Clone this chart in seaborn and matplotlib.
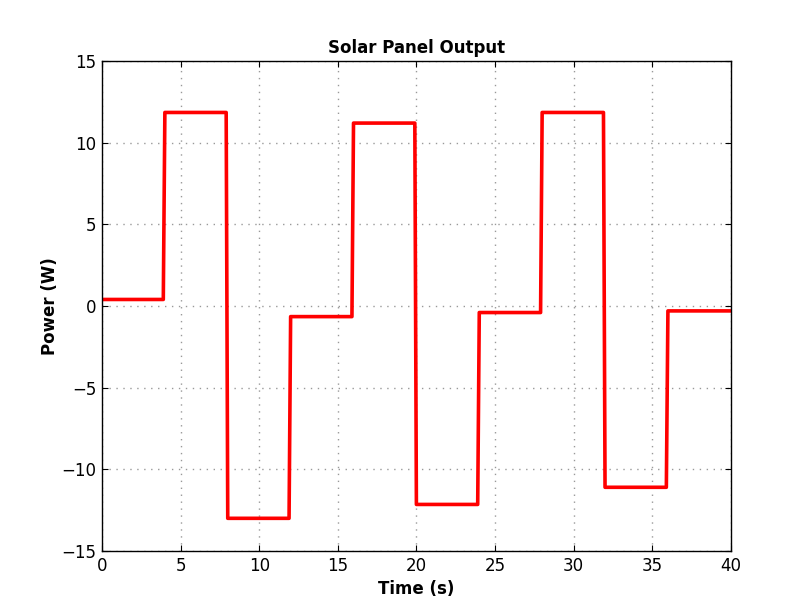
import matplotlib
matplotlib.use("Agg")
import matplotlib.pyplot as plt
import seaborn as sns
import pandas as pd

# Vertices of the output trace (time in s, power in W)
time_s = [0, 3.9, 4.0, 7.9, 8.0, 11.9, 12.0, 15.9, 16.0, 19.9, 20.0,
          23.9, 24.0, 27.9, 28.0, 31.9, 32.0, 35.9, 36.0, 40.0]
power_w = [0.4, 0.4, 11.85, 11.85, -13.0, -13.0, -0.65, -0.65, 11.2, 11.2, -12.15,
           -12.15, -0.4, -0.4, 11.85, 11.85, -11.1, -11.1, -0.3, -0.3]

x_ticks = [0, 5, 10, 15, 20, 25, 30, 35, 40]
y_ticks = [-15, -10, -5, 0, 5, 10, 15]

sns.set_style("white")
plt.rcParams['font.family'] = ['DejaVu Sans']
plt.rcParams['text.color'] = 'black'
plt.rcParams['axes.labelcolor'] = 'black'

df = pd.DataFrame({"Time (s)": time_s, "Power (W)": power_w})

fig = plt.figure(figsize=(8.12, 6.12), dpi=100)
ax = fig.add_axes([0.1256, 0.0997, 0.7744, 0.8006])
sns.lineplot(data=df, x="Time (s)", y="Power (W)", ax=ax, color="red",
             linewidth=2.6, sort=False, estimator=None)

ax.set_xlim(0, 40)
ax.set_ylim(-15, 15)
ax.set_xticks(x_ticks)
ax.set_yticks(y_ticks)
ax.set_yticklabels([str(v).replace('-', '\u2212') for v in y_ticks])
ax.grid(True, linestyle=(0, (1, 4)), color='#999999', linewidth=1.0)
ax.tick_params(direction='in', length=4, width=0.8, labelsize=12,
               top=True, right=True, bottom=True, left=True, colors='black', pad=4)
for s in ax.spines.values():
    s.set_color('black')
    s.set_linewidth(1.0)
ax.set_title("Solar Panel Output", fontsize=12, fontweight='bold', color='black')
ax.set_xlabel("Time (s)", fontsize=12, fontweight='bold', color='black', labelpad=4)
ax.set_ylabel("Power (W)", fontsize=12, fontweight='bold', color='black', labelpad=2)

fig.savefig("out.png", dpi=100, facecolor='white')
